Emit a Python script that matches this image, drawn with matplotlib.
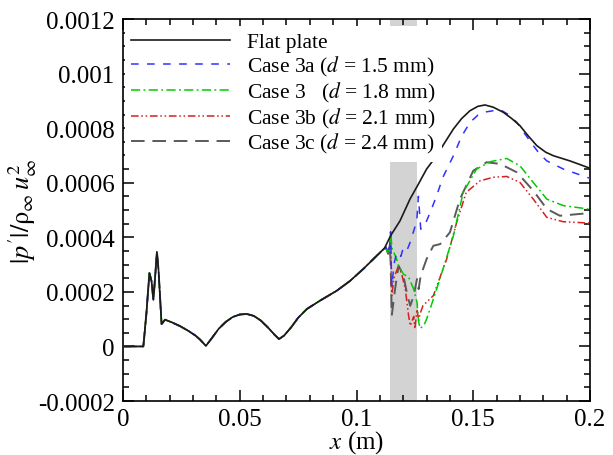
import matplotlib
matplotlib.use("Agg")
import matplotlib.pyplot as plt
import numpy as np
from matplotlib.ticker import MultipleLocator, FuncFormatter

plt.rcParams['font.family'] = ['Liberation Serif', 'DejaVu Serif']
plt.rcParams['mathtext.fontset'] = 'stix'
plt.rcParams['axes.unicode_minus'] = False

# shared part (all cases sit on the flat plate curve up to x ~ 0.112)
x_base = [0.0, 0.0087, 0.0100, 0.0113, 0.0122, 0.0130, 0.0138, 0.0145, 0.0152, 0.0165,
          0.0180, 0.0210, 0.0245, 0.0280, 0.0310, 0.0330, 0.0355, 0.0380, 0.0410, 0.0440,
          0.0470, 0.0500, 0.0530, 0.0560, 0.0590, 0.0620, 0.0650, 0.0668, 0.0690, 0.0720,
          0.0750, 0.0787, 0.0844, 0.0915, 0.0972, 0.1029, 0.1086, 0.1120]
y_base = [0.0, 0.0, 0.00012, 0.000269, 0.00024, 0.000171, 0.00026, 0.000347, 0.00028, 0.000082,
          0.000098, 0.000088, 0.000074, 0.000057, 0.00004, 0.000025, 0.000002, 0.00003, 0.000065, 0.00009,
          0.000108, 0.000117, 0.000119, 0.000112, 0.000095, 0.00007, 0.000042, 0.000027, 0.00004, 0.00007,
          0.000105, 0.000137, 0.000168, 0.000204, 0.00024, 0.000284, 0.000332, 0.00036]

x_flat = [0.1146, 0.1186, 0.1229, 0.1265, 0.1300, 0.1343, 0.1380, 0.1415, 0.1450, 0.1486,
          0.1520, 0.1550, 0.1585, 0.1629, 0.1665, 0.1700, 0.1735, 0.1772, 0.1810, 0.1843,
          0.1914, 0.2000]
y_flat = [0.000406, 0.00046, 0.00054, 0.000595, 0.00065, 0.000699, 0.00075, 0.000797, 0.000835, 0.000864,
          0.00088, 0.000885, 0.000877, 0.000858, 0.000835, 0.000809, 0.000772, 0.000736, 0.000712, 0.000699,
          0.00068, 0.000653]

# small bump before the roughness band
x_bump = [0.1125, 0.1135, 0.1142]
y_bump = [0.000365, 0.00034, 0.00037]

x_3a = [0.1146, 0.1150, 0.1152, 0.1160, 0.1172, 0.1190, 0.1200, 0.1215, 0.1229, 0.1243,
        0.1258, 0.1265, 0.1275, 0.1290, 0.1315, 0.1343, 0.1370, 0.1415, 0.1450, 0.1486,
        0.1520, 0.1557, 0.1615, 0.1650, 0.1687, 0.1720, 0.1757, 0.1785, 0.1815, 0.1886, 0.2000]
y_3a = [0.00042, 0.00025, 0.00022, 0.00030, 0.000345, 0.00033, 0.00036, 0.00035, 0.00038, 0.000418,
        0.00046, 0.00055, 0.00043, 0.00044, 0.00049, 0.000552, 0.00062, 0.000699, 0.00077, 0.000821,
        0.000848, 0.00086, 0.000868, 0.00085, 0.000821, 0.00078, 0.000736, 0.000705, 0.00068, 0.00065, 0.000616]

x_3 = [0.1146, 0.1152, 0.1172, 0.1180, 0.1201, 0.1223, 0.1245, 0.1259, 0.1266, 0.1273,
       0.1290, 0.1300, 0.1320, 0.1343, 0.1380, 0.1415, 0.1457, 0.1514, 0.1572, 0.1643,
       0.1700, 0.1757, 0.1815, 0.1886, 0.2000]
y_3 = [0.00042, 0.00036, 0.00032, 0.000296, 0.000265, 0.000254, 0.00021, 0.000162, 0.000089, 0.000066,
       0.00008, 0.0001, 0.00015, 0.00021, 0.00031, 0.000406, 0.000565, 0.00065, 0.000677, 0.000689,
       0.000662, 0.000601, 0.00054, 0.000516, 0.000503]

x_3b = [0.1146, 0.1151, 0.1160, 0.1180, 0.1195, 0.1209, 0.1223, 0.1230, 0.1245, 0.1250,
        0.1259, 0.1266, 0.1272, 0.1285, 0.1329, 0.1386, 0.1429, 0.1470, 0.1529, 0.1586,
        0.1643, 0.1700, 0.1757, 0.1815, 0.1886, 0.2000]
y_3b = [0.00041, 0.000186, 0.00025, 0.000296, 0.00026, 0.00021, 0.000113, 0.000076, 0.00011, 0.000064,
        0.000137, 0.000095, 0.00012, 0.00015, 0.000186, 0.00032, 0.000455, 0.000565, 0.000607, 0.00062,
        0.000623, 0.000601, 0.00054, 0.000473, 0.000457, 0.000452]

x_3c = [0.1146, 0.1151, 0.1165, 0.1180, 0.1201, 0.1215, 0.1230, 0.1245, 0.1259, 0.1266,
        0.1275, 0.1300, 0.1329, 0.1358, 0.1400, 0.1443, 0.1500, 0.1557, 0.1615, 0.1687,
        0.1757, 0.1815, 0.1871, 0.2000]
y_3c = [0.00031, 0.000113, 0.00021, 0.000296, 0.000259, 0.000199, 0.000149, 0.000186, 0.000247, 0.00021,
        0.00026, 0.00032, 0.000369, 0.000375, 0.000418, 0.00054, 0.000644, 0.000675, 0.000669, 0.000638,
        0.000571, 0.000504, 0.000479, 0.000489]

band = (0.1145, 0.1257)

fig = plt.figure(figsize=(6.13, 4.56), dpi=100)
ax = fig.add_axes([0.2007, 0.1184, 0.7618, 0.8377])

ax.axvspan(band[0], band[1], color='#d3d3d3', lw=0, zorder=0)

def case(xs, ys, bump=True):
    xx = x_base + (x_bump if bump else []) + xs
    yy = y_base + (y_bump if bump else []) + ys
    return xx, yy

xx, yy = case(x_flat, y_flat, bump=False)
ax.plot(xx, yy, color='#1a1a1a', lw=1.2, label='Flat plate', zorder=5)
xx, yy = case(x_3a, y_3a)
ax.plot(xx, yy, color='#3030ff', lw=1.1, dashes=(5, 5.5), label='Case 3a ($d$ = 1.5 mm)', zorder=4)
xx, yy = case(x_3, y_3)
ax.plot(xx, yy, color='#00cc00', lw=1.1, dashes=(6, 2.2, 1.2, 2.2), label='Case 3   ($d$ = 1.8 mm)', zorder=3)
xx, yy = case(x_3b, y_3b)
ax.plot(xx, yy, color='#d42020', lw=1.1, dashes=(5, 1.8, 1, 1.8, 1, 1.8), label='Case 3b ($d$ = 2.1 mm)', zorder=2)
xx, yy = case(x_3c, y_3c)
ax.plot(xx, yy, color='#5a5a5a', lw=1.4, dashes=(7, 4), label='Case 3c ($d$ = 2.4 mm)', zorder=1)

ax.set_xlim(0, 0.2)
ax.set_ylim(-0.0002, 0.0012)
ax.xaxis.set_major_locator(MultipleLocator(0.05))
ax.xaxis.set_minor_locator(MultipleLocator(0.01))
ax.yaxis.set_major_locator(MultipleLocator(0.0002))
ax.yaxis.set_minor_locator(MultipleLocator(0.00005))
fmt = FuncFormatter(lambda v, p: '%g' % round(v, 8))
ax.xaxis.set_major_formatter(fmt)
ax.yaxis.set_major_formatter(fmt)
ax.tick_params(which='both', direction='in', top=True, right=True, width=1.1)
ax.tick_params(which='major', length=8, labelsize=18)
ax.tick_params(axis='x', which='major', pad=5)
ax.tick_params(axis='y', which='major', pad=6)
ax.tick_params(which='minor', length=4)
for s in ax.spines.values():
    s.set_linewidth(1.2)

ax.set_xlabel('$x$ (m)', fontsize=18, labelpad=-1)
ax.set_ylabel(r"$|p'|/\mathrm{\rho}_\infty\, u_\infty^2$", fontsize=19, labelpad=-1)

leg = ax.legend(loc='upper left', bbox_to_anchor=(0.004, 0.982), fontsize=15.5, frameon=True,
                fancybox=False, edgecolor='none', facecolor='white', framealpha=1,
                handlelength=4.6, handletextpad=0.75, labelspacing=0.08, borderpad=0.3,
                borderaxespad=0.0)
leg.set_zorder(10)

fig.savefig('out.png', dpi=100)
